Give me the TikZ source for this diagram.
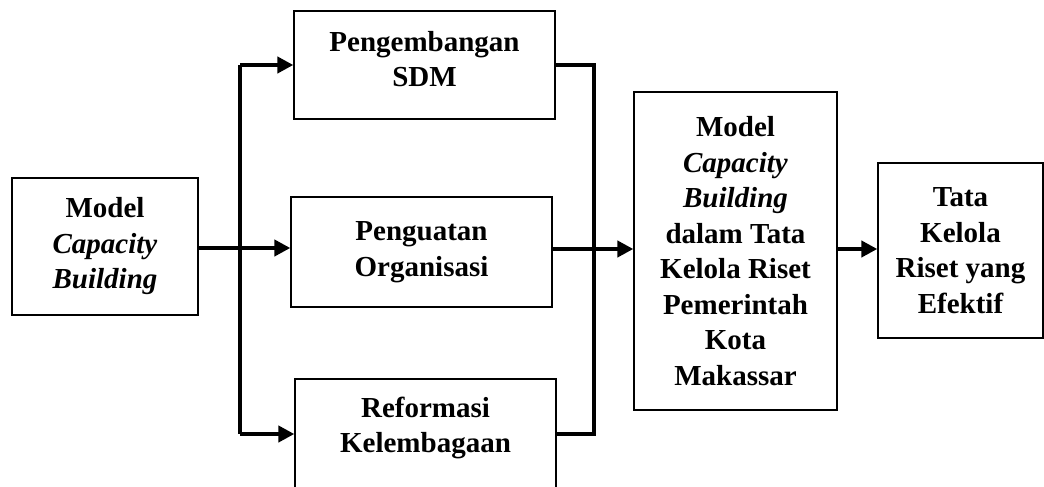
\documentclass[tikz,border=0pt]{standalone}
\usepackage{fontspec}
\setmainfont{Liberation Serif}
\usepackage{tikz}
\usetikzlibrary{arrows.meta}

\begin{document}
\begin{tikzpicture}[x=1pt,y=-1pt,
  box/.style={draw,line width=1.3pt,align=center,inner sep=0pt,
    font=\fontsize{29}{35.5}\selectfont\bfseries},
  link/.style={line width=4pt},
  arr/.style={link,-{Triangle[length=16pt,width=16pt]}}]
\useasboundingbox (0,0) rectangle (1044,487);
\node[box,minimum width=186pt,minimum height=137pt] (model) at (105,246.5) {Model\\\textit{Capacity}\\\textit{Building}};
\node[box,minimum width=261pt,minimum height=108pt,text depth=12pt] (sdm) at (424.5,65) {Pengembangan\\SDM};
\node[box,minimum width=261pt,minimum height=110pt] (org) at (421.5,252) {Penguatan\\Organisasi};
\node[box,minimum width=261pt,minimum height=110pt,text depth=18pt] (lembaga) at (425.5,434) {Reformasi\\Kelembagaan};
\node[box,minimum width=203pt,minimum height=318pt] (riset) at (735.5,251) {Model\\\textit{Capacity}\\\textit{Building}\\dalam Tata\\Kelola Riset\\Pemerintah\\Kota\\Makassar};
\node[box,minimum width=165pt,minimum height=175pt] (efektif) at (960.5,250.5) {Tata\\Kelola\\Riset yang\\Efektif};
\coordinate (split) at (240,248);
\coordinate (merge) at (594,249);
\draw[link] (model.east |- split) -- (split);
\draw[link] (split |- sdm.west) -- (split |- lembaga.west);
\draw[arr] (split |- sdm.west) -- (sdm.west);
\draw[arr] (split) -- (org.west |- split);
\draw[arr] (split |- lembaga.west) -- (lembaga.west);
\draw[link,line cap=rect] (sdm.east) -| (merge) |- (lembaga.east);
\draw[arr] (org.east |- merge) -- (riset.west |- merge);
\draw[arr] (riset.east |- merge) -- (efektif.west |- merge);
\end{tikzpicture}
\end{document}
